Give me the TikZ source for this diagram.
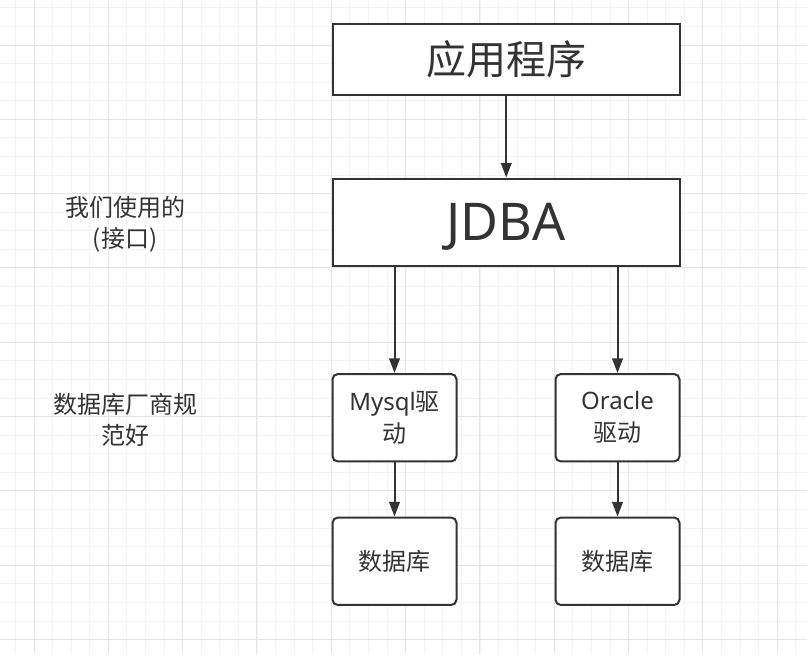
\documentclass[tikz,border=0pt]{standalone}
\usepackage{fontspec}
\setmainfont{Noto Sans}
\newfontfamily\cjk{Noto Sans CJK SC}
\usetikzlibrary{arrows.meta}
\definecolor{ink}{HTML}{333333}
\definecolor{gridminor}{HTML}{F3F3F3}
\definecolor{gridmajor}{HTML}{E4E4E4}
\begin{document}
\begin{tikzpicture}[x=0.75pt,y=-0.75pt,
  minorline/.style={draw=gridminor, line width=0.75pt},
  majorline/.style={draw=gridmajor, line width=0.75pt},
  box/.style={draw=ink, fill=white, line width=1.5pt, text=ink, inner sep=0pt, align=center},
  rbox/.style={box, rounded corners=4pt, minimum width=93pt, minimum height=65.6pt,
    font=\fontsize{18pt}{24pt}\selectfont},
  arr/.style={draw=ink, line width=1.5pt, -{Triangle[length=11pt,width=8pt]}},
  lbl/.style={text=ink, align=center, inner sep=0pt, font=\cjk\fontsize{18pt}{23.25pt}\selectfont}]
\useasboundingbox (0,0) rectangle (807,654);
\fill[white] (0,0) rectangle (807,654);
% grid
\foreach \i in {0,...,43} \draw[minorline] ({15.42+18.583*\i},0) -- ({15.42+18.583*\i},654);
\foreach \j in {0,...,35} \draw[minorline] (0,{7.83+18.583*\j}) -- (807,{7.83+18.583*\j});
\foreach \i in {0,...,10} \draw[majorline] ({34+74.33*\i},0) -- ({34+74.33*\i},654);
\foreach \j in {0,...,8} \draw[majorline] (0,{45+74.33*\j}) -- (807,{45+74.33*\j});
% boxes
\node[box, minimum width=260.6pt, minimum height=53.6pt, font=\cjk\fontsize{30pt}{36pt}\selectfont]
  (app) at (506.25,59.25) {\raisebox{-1pt}{应用程序}};
\node[box, minimum width=260.6pt, minimum height=65.25pt, text depth=0pt, font=\fontsize{39pt}{44pt}\selectfont]
  (jdba) at (506.25,222) {JDBA};
\node[rbox] (mysql) at (394.5,417.75) {Mysql{\cjk 驱}\\{\cjk 动}};
\node[rbox] (oracle) at (617.5,417.75) {Oracle\\{\cjk 驱动}};
\node[rbox, font=\cjk\fontsize{18pt}{24pt}\selectfont] (db1) at (394.5,561.25) {数据库};
\node[rbox, font=\cjk\fontsize{18pt}{24pt}\selectfont] (db2) at (617.5,561.25) {数据库};
% labels
\node[lbl] (use) at (125,224) {我们使用的\\(接口)};
\node[lbl] (vendor) at (125,420) {数据库厂商规\\范好};
% arrows
\draw[arr] (app) -- (jdba);
\draw[arr] (jdba.south -| mysql.north) -- (mysql.north);
\draw[arr] (jdba.south -| oracle.north) -- (oracle.north);
\draw[arr] (mysql) -- (db1);
\draw[arr] (oracle) -- (db2);
\end{tikzpicture}
\end{document}
